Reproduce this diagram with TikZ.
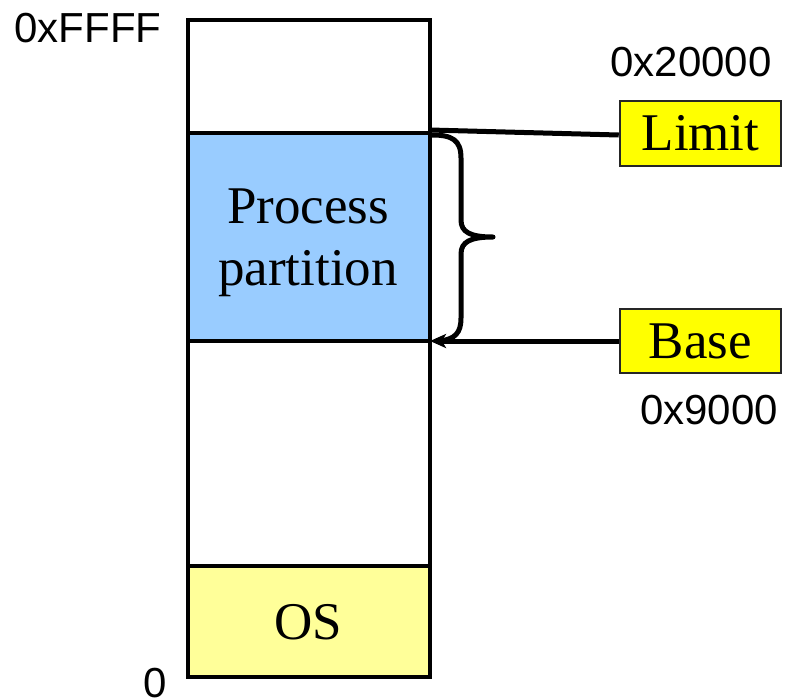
\documentclass[tikz,border=0pt]{standalone}
\usepackage{fontspec}
\setmainfont{Liberation Serif}
\setsansfont{Liberation Sans}
\usetikzlibrary{arrows.meta}
\definecolor{procblue}{HTML}{99CCFF}
\definecolor{oscream}{HTML}{FFFF99}
\definecolor{regyellow}{HTML}{FFFF00}
\begin{document}
\begin{tikzpicture}[x=1pt,y=-1pt,
  memline/.style={line width=3.5pt},
  regbox/.style={draw=black!85,line width=2.5pt,fill=regyellow,inner sep=0pt,
    font=\fontsize{53}{57}\selectfont},
  addr/.style={font=\sffamily\fontsize{42}{46}\selectfont,inner sep=0pt},
  bigtext/.style={font=\fontsize{53}{62}\selectfont,align=center,inner sep=0pt},
  link/.style={line width=5pt}]
\useasboundingbox (0,0) rectangle (790,697);
% memory column with its two filled regions
\fill[procblue] (188,133) rectangle (430,341);
\fill[oscream] (188,566) rectangle (430,677);
\draw[memline] (188,677) -- (188,20) -- (430,20) -- (430,677) -- cycle;
\draw[memline] (188,133) -- (430,133);
\draw[memline] (188,341) -- (430,341);
\draw[memline] (188,566) -- (430,566);
\node[bigtext] (proc) at (308,243) {Process\\partition};
\node[bigtext] (os) at (308,622) {OS};
% address labels
\node[addr] (top) at (88,28) {0xFFFF};
\node[addr] (bot) at (155,683) {0};
\node[addr] (lim) at (691,62) {0x20000};
\node[addr] (bas) at (709,410) {0x9000};
% limit and base registers
\node[regbox,minimum width=161pt,minimum height=65pt] (limit) at (700.5,133.5) {Limit};
\node[regbox,minimum width=161pt,minimum height=64pt] (base) at (700.5,341) {Base};
\coordinate (ptop) at (430,130);
\coordinate (pbot) at (430,341);
\draw[link] (limit.west |- 0,135) -- (ptop);
\draw[link,-{Stealth[length=16pt,width=14pt,inset=4pt]}] (base.west) -- (pbot);
% brace spanning the process partition
\draw[line width=5pt,line cap=round,line join=round]
  (432,135) .. controls (452,135) and (461,140) .. (461,158)
  -- (461,220) .. controls (461,232) and (470,237) .. (493,237)
  .. controls (470,237) and (461,242) .. (461,254)
  -- (461,318) .. controls (461,333) and (455,339) .. (440,341);
\end{tikzpicture}
\end{document}
